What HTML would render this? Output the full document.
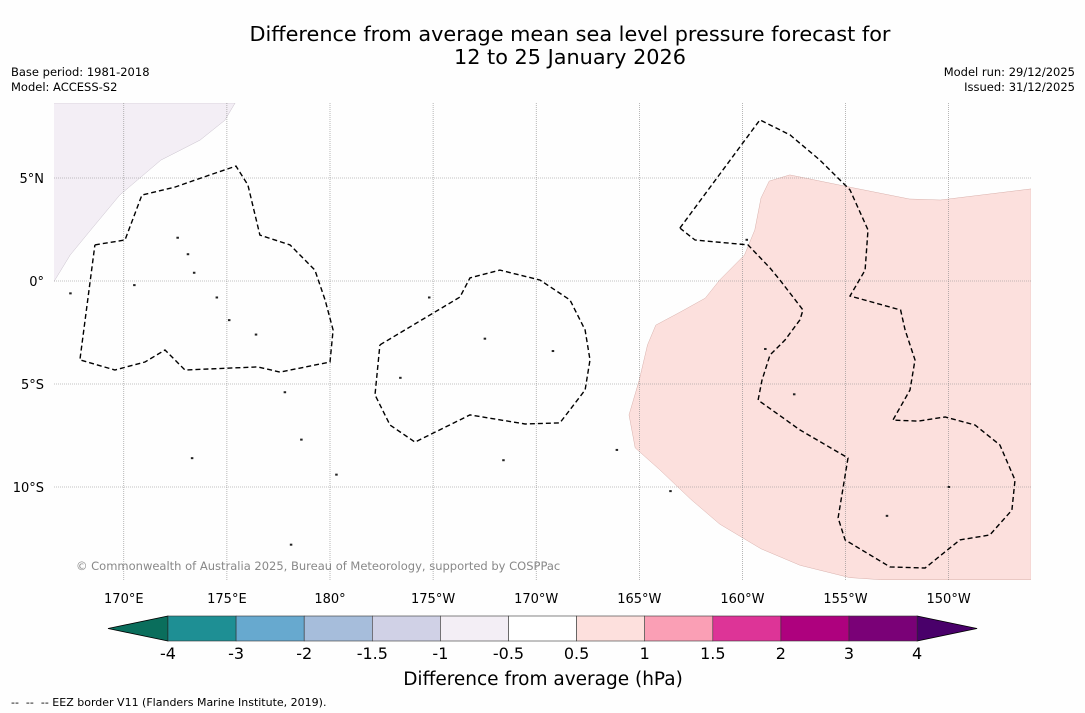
<!DOCTYPE html>
<html><head><meta charset="utf-8">
<style>
body{margin:0;background:#fff;font-family:"Liberation Sans","DejaVu Sans",sans-serif;}
svg{display:block}
</style></head>
<body>
<svg id="chart" width="1085" height="713" xmlns="http://www.w3.org/2000/svg">
<rect width="1085" height="713" fill="#fefefe"/>
<text x="570" y="41" font-size="20.8" text-anchor="middle" font-family="DejaVu Sans,sans-serif">Difference from average mean sea level pressure forecast for</text>
<text x="570" y="64" font-size="20.8" text-anchor="middle" font-family="DejaVu Sans,sans-serif">12 to 25 January 2026</text>
<text x="11" y="76" font-size="11.5" font-family="DejaVu Sans,sans-serif">Base period: 1981-2018</text>
<text x="11" y="91" font-size="11.5" font-family="DejaVu Sans,sans-serif">Model: ACCESS-S2</text>
<text x="1075" y="76" font-size="11.5" text-anchor="end" font-family="DejaVu Sans,sans-serif">Model run: 29/12/2025</text>
<text x="1075" y="91" font-size="11.5" text-anchor="end" font-family="DejaVu Sans,sans-serif">Issued: 31/12/2025</text>
<g id="map"></g>
<g id="cbar"></g>
<text x="543" y="685" font-size="18.5" text-anchor="middle" font-family="DejaVu Sans,sans-serif">Difference from average (hPa)</text>
<text x="11" y="706" font-size="11" xml:space="preserve" style="white-space:pre" font-family="DejaVu Sans,sans-serif">--  --  -- EEZ border V11 (Flanders Marine Institute, 2019).</text>
</svg>
<script>
const NS="http://www.w3.org/2000/svg";
const lonTicks=[170,175,180,185,190,195,200,205,210];
const lonLabels=["170°E","175°E","180°","175°W","170°W","165°W","160°W","155°W","150°W"];
const latTicks=[5,0,-5,-10];
const latLabels=["5°N","0°","5°S","10°S"];
const pinkLon=[214.0,209.6,208.1,205.2,202.3,201.3,200.9,200.6,200.1,198.9,198.2,197.0,195.8,195.4,195.0,194.5,194.8,196.0,197.5,198.9,200.9,202.8,205.2,206.7,214.0];
const pinkLat=[4.47,3.93,3.98,4.56,5.15,4.85,4.03,2.48,1.26,0.05,-0.83,-1.5,-2.14,-3.1,-4.8,-6.5,-8.1,-9.17,-10.6,-11.8,-13.0,-13.8,-14.4,-14.5,-14.5];
const lilacLon=[166.6,175.4,174.9,173.7,171.8,169.8,168.4,167.4,166.6];
const lilacLat=[8.64,8.64,7.8,6.84,5.87,4.17,2.48,1.26,-0.05];
const cAlon=[168.6,170.06,170.88,172.48,174.18,175.44,176.02,176.6,178.06,179.27,179.76,180.15,180.0,177.58,176.5,172.97,172.0,171.03,169.57,167.87,168.6];
const cAlat=[1.75,1.99,4.17,4.56,5.15,5.58,4.66,2.23,1.75,0.53,-0.92,-2.38,-3.93,-4.42,-4.17,-4.32,-3.35,-3.93,-4.32,-3.83,1.75];
const cBlon=[182.42,186.3,186.79,188.24,190.18,191.64,192.37,192.61,192.37,191.15,189.46,186.79,184.12,182.91,182.18,182.42];
const cBlat=[-3.1,-0.78,0.15,0.53,0.05,-0.92,-2.38,-3.83,-5.29,-6.89,-6.94,-6.5,-7.82,-6.99,-5.53,-3.1];
const cClon=[196.97,200.85,202.31,203.76,205.22,206.09,205.95,205.22,207.67,207.89,208.37,208.13,207.3,208.52,209.83,211.28,212.49,213.22,213.07,212.0,210.55,208.86,207.16,204.98,204.64,205.12,202.79,200.76,200.95,201.34,202.07,202.79,202.94,201.82,201.34,200.27,197.7,196.97];
const cClat=[2.57,7.82,7.09,5.87,4.42,2.48,0.53,-0.73,-1.41,-2.38,-3.83,-5.29,-6.75,-6.8,-6.6,-6.99,-7.96,-9.66,-11.12,-12.33,-12.57,-13.93,-13.88,-12.57,-11.5,-8.59,-7.23,-5.78,-4.81,-3.59,-2.86,-1.89,-1.41,0.05,0.63,1.75,1.99,2.57];
const islandLon=[170.5,172.6,173.1,173.4,174.5,175.1,176.4,177.8,178.6,180.3,183.4,184.8,187.5,188.4,190.8,193.9,196.5,201.1,202.5,207.0,210.0,200.2,178.1,173.3,167.4];
const islandLat=[-0.2,2.1,1.3,0.4,-0.8,-1.9,-2.6,-5.4,-7.7,-9.4,-4.7,-0.8,-2.8,-8.7,-3.4,-8.2,-10.2,-3.3,-5.5,-11.4,-10.0,2.0,-12.8,-8.6,-0.6];
const cbLevels=["-4","-3","-2","-1.5","-1","-0.5","0.5","1","1.5","2","3","4"];
const cbColors=["#1e8f94","#67a9cf","#a6bddb","#d0d1e6","#f3eef5","#ffffff","#fde0dd","#fa9fb5","#dd3497","#ae017e","#7a0177"];
const X0=54,X1=1031,Y0=103,Y1=580;
function xs(lon){return 330+(lon-180)*20.62;}
function ys(lat){return 281-lat*20.6;}
const map=document.getElementById('map');
function mk(tag,attrs,parent){const e=document.createElementNS(NS,tag);for(const k in attrs)e.setAttribute(k,attrs[k]);(parent||map).appendChild(e);return e;}
function pts(lo,la){return lo.map((v,i)=>xs(v).toFixed(1)+","+ys(la[i]).toFixed(1)).join(" ");}
const cp=mk('clipPath',{id:'clip'});mk('rect',{x:X0,y:Y0,width:X1-X0,height:Y1-Y0},cp);
const g=mk('g',{'clip-path':'url(#clip)'});
let e=mk('polygon',{points:pts(pinkLon,pinkLat),fill:'#fce0dd',stroke:'#d8b0ab','stroke-width':0.5},g);


e=mk('polygon',{points:pts(lilacLon,lilacLat),fill:'#f3eef5',stroke:'#c8c0cc','stroke-width':0.5},g);


lonTicks.forEach((lon,i)=>{
 e=mk('line',{x1:xs(lon),x2:xs(lon),y1:Y0,y2:Y1,stroke:'#888','stroke-width':0.6,'stroke-dasharray':'1,1'},g);
 
 
 e=mk('text',{x:xs(lon),y:603,'font-size':13,'text-anchor':'middle','font-family':'DejaVu Sans,sans-serif'});
 e.textContent=lonLabels[i];
 
 
});
latTicks.forEach((lat,i)=>{
 e=mk('line',{x1:X0,x2:X1,y1:ys(lat),y2:ys(lat),stroke:'#888','stroke-width':0.6,'stroke-dasharray':'1,1'},g);
 
 
 e=mk('text',{x:44,y:ys(lat)+5,'font-size':13,'text-anchor':'end','font-family':'DejaVu Sans,sans-serif'});
 e.textContent=latLabels[i];
 
 
});
islandLon.forEach((lon,i)=>{
 e=mk('rect',{x:xs(lon)-1,y:ys(islandLat[i])-1,width:2.5,height:2,fill:'#222'},g);
 
 
});
[[cAlon,cAlat,'eez-border-west'],[cBlon,cBlat,'eez-border-central'],[cClon,cClat,'eez-border-east']].forEach(c=>{
 e=mk('polyline',{points:pts(c[0],c[1]),fill:'none',stroke:'#000','stroke-width':1.4,'stroke-dasharray':'5,3'},g);
 
 
});
e=mk('text',{x:76,y:570,'font-size':11.5,fill:'#888','font-family':'DejaVu Sans,sans-serif'});
e.textContent="© Commonwealth of Australia 2025, Bureau of Meteorology, supported by COSPPac";


const cb=document.getElementById('cbar');
const bx0=168,bw=68.1,by=616,bh=25;
e=mk('polygon',{points:`108,${by+bh/2} ${bx0},${by} ${bx0},${by+bh}`,fill:'#0a6e5c',stroke:'#000','stroke-width':0.8},cb);


const bxEnd=bx0+bw*cbColors.length;
e=mk('polygon',{points:`${bxEnd},${by} ${bxEnd+60},${by+bh/2} ${bxEnd},${by+bh}`,fill:'#49006a',stroke:'#000','stroke-width':0.8},cb);


cbColors.forEach((c,i)=>{
 e=mk('rect',{x:bx0+i*bw,y:by,width:bw,height:bh,fill:c,stroke:'#333','stroke-width':0.6},cb);
 
 
});
cbLevels.forEach((l,i)=>{
 e=mk('text',{x:bx0+i*bw,y:659,'font-size':16,'text-anchor':'middle','font-family':'DejaVu Sans,sans-serif'},cb);
 e.textContent=l;
 
 
});
</script>
</body></html>
